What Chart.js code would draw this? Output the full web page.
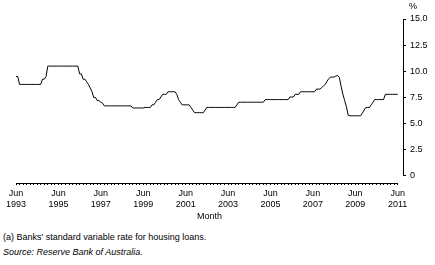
<!DOCTYPE html>
<html>
<head>
<meta charset="utf-8">
<script src="https://cdn.jsdelivr.net/npm/chart.js@4.4.1/dist/chart.umd.min.js"></script>
<style>
  body { margin: 0; background: #fff; }
  #wrap { position: relative; width: 435px; height: 265px; font-family: "Liberation Sans", Arial, sans-serif; font-size: 9px; color: #000; }
  #chart { position: absolute; left: 0; top: 0; }
  .note { position: absolute; left: 3px; line-height: 12px; white-space: nowrap; }
  #pct { position: absolute; left: 409px; top: 0px; line-height: 12px; }
</style>
</head>
<body>
<div id="wrap">
  <canvas id="chart" width="435" height="225"></canvas>
  <div id="pct">%</div>
  <div class="note" style="top:231px">(a) Banks' standard variable rate for housing loans.</div>
  <div class="note" style="top:246px; font-style:italic">Source: Reserve Bank of Australia.</div>
</div>
<script>
// monthly rates (%), Jun 1993 to Jun 2011
const rate1993 = [9.5, 9.5, 8.75, 8.75, 8.75, 8.75, 8.75]; // Jun-Dec
const rate1994 = [8.75, 8.75, 8.75, 8.75, 8.75, 8.75, 8.75, 8.75, 9.25, 9.25, 9.5, 10.5];
const rate1995 = [10.5, 10.5, 10.5, 10.5, 10.5, 10.5, 10.5, 10.5, 10.5, 10.5, 10.5, 10.5];
const rate1996 = [10.5, 10.5, 10.5, 10.5, 10.5, 9.75, 9.75, 9.25, 9.25, 9.0, 8.75, 8.4];
const rate1997 = [8.05, 7.5, 7.5, 7.2, 7.2, 7.05, 6.95, 6.7, 6.7, 6.7, 6.7, 6.7];
const rate1998 = [6.7, 6.7, 6.7, 6.7, 6.7, 6.7, 6.7, 6.7, 6.7, 6.7, 6.7, 6.5];
const rate1999 = [6.5, 6.5, 6.5, 6.5, 6.5, 6.5, 6.55, 6.55, 6.55, 6.55, 6.8, 6.8];
const rate2000 = [7.05, 7.3, 7.3, 7.55, 7.8, 7.8, 7.8, 8.05, 8.05, 8.05, 8.05, 8.05];
const rate2001 = [7.8, 7.3, 7.05, 6.8, 6.8, 6.8, 6.8, 6.8, 6.55, 6.3, 6.05, 6.05];
const rate2002 = [6.05, 6.05, 6.05, 6.05, 6.3, 6.55, 6.55, 6.55, 6.55, 6.55, 6.55, 6.55];
const rate2003 = [6.55, 6.55, 6.55, 6.55, 6.55, 6.55, 6.55, 6.55, 6.55, 6.55, 6.8, 7.05];
const rate2004 = [7.05, 7.05, 7.05, 7.05, 7.05, 7.05, 7.05, 7.05, 7.05, 7.05, 7.05, 7.05];
const rate2005 = [7.05, 7.05, 7.3, 7.3, 7.3, 7.3, 7.3, 7.3, 7.3, 7.3, 7.3, 7.3];
const rate2006 = [7.3, 7.3, 7.3, 7.3, 7.55, 7.55, 7.55, 7.8, 7.8, 7.8, 8.05, 8.05];
const rate2007 = [8.05, 8.05, 8.05, 8.05, 8.05, 8.05, 8.05, 8.3, 8.3, 8.3, 8.45, 8.6];
const rate2008 = [8.75, 9.05, 9.3, 9.45, 9.45, 9.45, 9.55, 9.6, 9.4, 8.55, 7.8, 7.2];
const rate2009 = [6.6, 5.8, 5.75, 5.75, 5.75, 5.75, 5.75, 5.75, 5.75, 6.0, 6.3, 6.55];
const rate2010 = [6.55, 6.55, 6.8, 7.05, 7.3, 7.3, 7.3, 7.3, 7.3, 7.3, 7.8, 7.8];
const rate2011 = [7.8, 7.8, 7.8, 7.8, 7.8, 7.8]; // Jan-Jun

const tickYears = ['1993', '1995', '1997', '1999', '2001', '2003', '2005', '2007', '2009', '2011'];
const tickMonth = 'Jun';
const yTicks = [0, 2.5, 5, 7.5, 10, 12.5, 15];

const rates = [].concat(rate1993, rate1994, rate1995, rate1996, rate1997, rate1998,
  rate1999, rate2000, rate2001, rate2002, rate2003, rate2004, rate2005, rate2006,
  rate2007, rate2008, rate2009, rate2010, rate2011);
const lastMonth = rates.length - 1;

const font = { family: '"Liberation Sans", Arial, sans-serif', size: 9 };

// axis lines only span the data range, as in the original
const axisLines = {
  id: 'axisLines',
  beforeDatasetsDraw(chart) {
    const { ctx, chartArea, scales } = chart;
    ctx.save();
    ctx.strokeStyle = '#000';
    ctx.lineWidth = 1;
    ctx.beginPath();
    const yb = Math.round(chartArea.bottom) + 0.5;
    ctx.moveTo(scales.x.getPixelForValue(0), yb);
    ctx.lineTo(scales.x.getPixelForValue(lastMonth), yb);
    const xr = Math.round(chartArea.right) + 0.5;
    ctx.moveTo(xr, scales.y.getPixelForValue(15));
    ctx.lineTo(xr, scales.y.getPixelForValue(0));
    ctx.stroke();
    ctx.restore();
  }
};

new Chart(document.getElementById('chart'), {
  type: 'line',
  data: {
    datasets: [{
      data: rates.map((v, i) => ({ x: i, y: v })),
      borderColor: '#000',
      borderWidth: 1,
      pointRadius: 0,
      tension: 0
    }]
  },
  options: {
    responsive: false,
    animation: false,
    layout: { padding: { top: 19, left: 16, right: 0, bottom: 0 } },
    plugins: { legend: { display: false }, tooltip: { enabled: false } },
    scales: {
      x: {
        type: 'linear',
        min: 0,
        max: 219,
        afterFit(scale) { scale.height = 42; },
        afterBuildTicks(scale) {
          const t = [];
          for (let i = 0; i <= lastMonth; i += 2) t.push({ value: i });
          scale.ticks = t;
        },
        ticks: {
          autoSkip: false,
          maxRotation: 0,
          minRotation: 0,
          padding: 3,
          color: '#000',
          font: font,
          callback: (v) => (v % 24 === 0 ? [tickMonth, tickYears[v / 24]] : '')
        },
        grid: { drawOnChartArea: false, drawTicks: true, tickLength: 2, color: '#000' },
        border: { display: false },
        title: { display: true, text: 'Month', color: '#000', font: font, padding: { top: 0, bottom: 3 } }
      },
      y: {
        position: 'right',
        min: -0.67,
        max: 15,
        afterFit(scale) { scale.width = 32; },
        afterBuildTicks(scale) { scale.ticks = yTicks.map((v) => ({ value: v })); },
        ticks: {
          padding: 4,
          color: '#000',
          font: font,
          callback: (v) => (v === 0 ? '0' : v.toFixed(1))
        },
        grid: { drawOnChartArea: false, drawTicks: true, tickLength: 3, color: '#000' },
        border: { display: false }
      }
    }
  },
  plugins: [axisLines]
});
</script>
</body>
</html>
